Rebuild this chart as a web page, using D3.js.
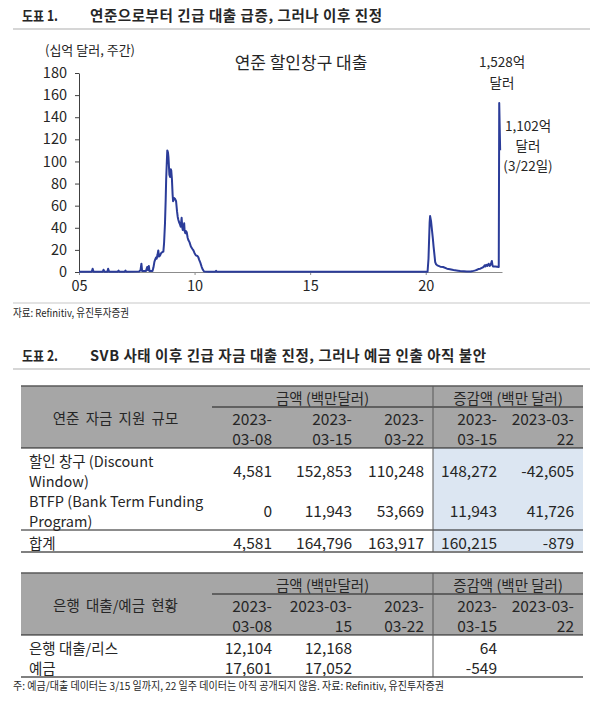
<!DOCTYPE html>
<html>
<head>
<meta charset="utf-8">
<script src="https://cdn.jsdelivr.net/npm/d3@7"></script>
<style>
  body { margin: 0; background: #fff; }
  text { font-family: "Noto Sans CJK KR", "Noto Sans", sans-serif; fill: #262626; }
</style>
</head>
<body>
<svg id="page"></svg>
<script>
// ---- chart 1 data: Fed discount window lending, weekly, $bn (x = years since 2000) ----
const years = [5.00, 5.55, 5.59, 5.63, 6.03, 6.06, 6.10, 6.23, 6.26, 6.30, 6.68, 6.71, 6.74, 6.98, 7.01, 7.04,
  7.60, 7.66, 7.70, 7.73, 7.90, 7.95, 7.99, 8.02, 8.05, 8.18, 8.22, 8.26, 8.29, 8.33, 8.36, 8.40, 8.43, 8.46,
  8.51, 8.55, 8.60, 8.65, 8.68, 8.72, 8.75, 8.77, 8.80, 8.82, 8.85, 8.87, 8.91, 8.94, 8.97, 8.99, 9.02, 9.05,
  9.07, 9.11, 9.16, 9.20, 9.24, 9.27, 9.30, 9.33, 9.37, 9.40, 9.44, 9.47, 9.49, 9.52, 9.55, 9.57, 9.60, 9.63,
  9.66, 9.70, 9.73, 9.78, 9.84, 9.90, 9.95, 10.00, 10.06, 10.12, 10.16, 10.20, 10.24, 10.28, 10.31, 10.36,
  10.41, 10.60, 10.90, 10.93, 10.96, 12.00, 14.00, 16.00, 18.00, 20.08, 20.12, 20.17, 20.19, 20.23, 20.27,
  20.31, 20.34, 20.38, 20.41, 20.45, 20.50, 20.63, 20.75, 20.92, 21.05, 21.20, 21.40, 21.49, 21.65, 21.78,
  21.95, 22.07, 22.15, 22.22, 22.29, 22.36, 22.43, 22.50, 22.55, 22.58, 22.62, 22.66, 22.72, 22.76, 22.79,
  22.83, 22.86, 22.89, 22.91, 23.01, 23.16, 23.18, 23.22];
const loans = [0.2, 0.2, 3, 0.2, 0.3, 2, 0.3, 0.3, 3, 0.3, 0.3, 1.2, 0.3, 0.3, 1.2, 0.3,
  0.4, 1.5, 7.5, 1, 1, 4.5, 1.5, 5.5, 1, 1, 4, 9, 11, 13, 12, 16, 19.5, 14,
  15, 17, 18, 18.5, 26, 44, 65, 83, 100, 110, 108, 104, 88, 86, 93, 92, 84, 70,
  64, 67, 66, 64, 55, 50, 47, 45, 43, 41, 49, 40, 38, 40, 44, 37, 35, 37,
  36, 31, 29, 27, 23, 21, 19.5, 17, 15, 14.5, 13.5, 11, 9, 6.5, 4.5, 2,
  0.4, 0.3, 0.3, 1.1, 0.3, 0.2, 0.2, 0.2, 0.2, 0.2, 12, 45, 50.6, 46, 38,
  30, 23, 15, 9, 7, 6, 4.8, 4.5, 3, 2.5, 1.8, 1.2, 0.9, 0.6, 0.4,
  0.5, 1, 1.5, 2, 2.8, 3, 3.8, 4.5, 6, 5, 6.5, 5.5, 7.5, 5.5, 6,
  8, 10, 6, 5, 5, 4.6, 152.8, 110.2];
const yTicks = [0, 20, 40, 60, 80, 100, 120, 140, 160, 180];
const xTicks = [5, 10, 15, 20];
const xTickLabels = ["05", "10", "15", "20"];

// ---- table 1: Fed funding support ----
const t1Groups = ["금액 (백만달러)", "증감액 (백만 달러)"];
const t1Corner = "연준 자금 지원 규모";
const t1ColHeads = [["2023-", "03-08"], ["2023-", "03-15"], ["2023-", "03-22"], ["2023-", "03-15"], ["2023-03-", "22"]];
const t1Labels = [["할인 창구 (Discount", "Window)"], ["BTFP (Bank Term Funding", "Program)"], ["합계"]];
const t1Values = [
  ["4,581", "152,853", "110,248", "148,272", "-42,605"],
  ["0", "11,943", "53,669", "11,943", "41,726"],
  ["4,581", "164,796", "163,917", "160,215", "-879"]
];

// ---- table 2: bank loans / deposits ----
const t2Corner = "은행 대출/예금 현황";
const t2ColHeads = [["2023-", "03-08"], ["2023-03-", "15"], ["2023-", "03-22"], ["2023-", "03-15"], ["2023-03-", "22"]];
const t2Labels = [["은행 대출/리스"], ["예금"]];
const t2Values = [
  ["12,104", "12,168", "", "64", ""],
  ["17,601", "17,052", "", "-549", ""]
];

const svg = d3.select("#page").attr("width", 600).attr("height", 702);

// section titles
function sectionTitle(y, num, title, width, lineY) {
  svg.append("text").attr("x", 22).attr("y", y).attr("font-size", 14).attr("font-weight", 700)
    .attr("textLength", 36).attr("lengthAdjust", "spacingAndGlyphs").text(num);
  svg.append("text").attr("x", 90).attr("y", y).attr("font-size", 14.5).attr("font-weight", 700)
    .attr("textLength", width).attr("lengthAdjust", "spacing").text(title);
  svg.append("line").attr("x1", 13).attr("x2", 590).attr("y1", lineY).attr("y2", lineY)
    .attr("stroke", "#c8c8c8").attr("stroke-width", 1.5);
}
sectionTitle(21, "도표 1.", "연준으로부터 긴급 대출 급증, 그러나 이후 진정", 292, 29);

// ---- chart 1 ----
const x = d3.scaleLinear().domain([5, 23.3]).range([79, 502]);
const y = d3.scaleLinear().domain([0, 180]).range([272, 73]);

svg.append("text").attr("x", 45).attr("y", 55).attr("font-size", 13).text("(십억 달러, 주간)");

const yAxis = svg.append("g").attr("transform", "translate(79,0)")
  .call(d3.axisLeft(y).tickValues(yTicks).tickSize(4).tickPadding(8).tickSizeOuter(0));
yAxis.select(".domain").attr("stroke", "#404040");
yAxis.selectAll(".tick line").attr("stroke", "#404040");
yAxis.selectAll("text").attr("font-size", 14.5).attr("font-family", "'Noto Sans CJK KR'").attr("fill", "#333");

const xAxis = svg.append("g").attr("transform", "translate(0,272)")
  .call(d3.axisBottom(x).tickValues(xTicks).tickFormat((d, i) => xTickLabels[i]).tickSize(3).tickPadding(6).tickSizeOuter(0));
xAxis.select(".domain").attr("stroke", "#8c8c8c");
xAxis.selectAll(".tick line").attr("stroke", "#8c8c8c");
xAxis.selectAll("text").attr("font-size", 14.5).attr("font-family", "'Noto Sans CJK KR'").attr("fill", "#333");

const line = d3.line().x(d => x(d[0])).y(d => y(d[1]));
svg.append("path").datum(d3.zip(years, loans))
  .attr("d", line).attr("fill", "none").attr("stroke", "#2b3c99").attr("stroke-width", 2)
  .attr("stroke-linejoin", "round");

svg.append("text").attr("x", 301).attr("y", 69).attr("text-anchor", "middle").attr("font-size", 17).text("연준 할인창구 대출");
svg.append("text").attr("x", 502).attr("y", 67).attr("text-anchor", "middle").attr("font-size", 13.5).text("1,528억");
svg.append("text").attr("x", 502).attr("y", 88).attr("text-anchor", "middle").attr("font-size", 13.5).text("달러");
svg.append("text").attr("x", 528).attr("y", 131).attr("text-anchor", "middle").attr("font-size", 13.5).text("1,102억");
svg.append("text").attr("x", 528).attr("y", 151).attr("text-anchor", "middle").attr("font-size", 13.5).text("달러");
svg.append("text").attr("x", 528).attr("y", 171).attr("text-anchor", "middle").attr("font-size", 13.5).text("(3/22일)");

svg.append("line").attr("x1", 13).attr("x2", 590).attr("y1", 303).attr("y2", 303)
  .attr("stroke", "#c8c8c8").attr("stroke-width", 1.2);
svg.append("text").attr("x", 13).attr("y", 317).attr("font-size", 11)
  .attr("textLength", 116).attr("lengthAdjust", "spacingAndGlyphs").text("자료: Refinitiv, 유진투자증권");

sectionTitle(361, "도표 2.", "SVB 사태 이후 긴급 자금 대출 진정, 그러나 예금 인출 아직 불안", 396, 369);

// ---- tables ----
const colRight = [272, 352, 424, 497, 574];
const L = 21, M = 212, S = 433, R = 583;

function drawTable(o) {
  const g = svg.append("g");
  // backgrounds
  g.append("rect").attr("x", L).attr("y", o.top).attr("width", R - L).attr("height", o.headBottom - o.top).attr("fill", "#a6a6a6");
  if (o.blue) g.append("rect").attr("x", S).attr("y", o.headBottom).attr("width", R - S).attr("height", o.bottom - o.headBottom).attr("fill", "#dce6f2");
  // group headers
  g.append("text").attr("x", (M + S) / 2).attr("y", o.groupY).attr("text-anchor", "middle").attr("dominant-baseline", "central")
    .attr("font-size", 14.5).text(t1Groups[0]);
  g.append("text").attr("x", (S + R) / 2).attr("y", o.groupY).attr("text-anchor", "middle").attr("dominant-baseline", "central")
    .attr("font-size", 14.5).text(t1Groups[1]);
  g.append("text").attr("x", (L + M) / 2 - 1).attr("y", (o.top + o.headBottom) / 2).attr("text-anchor", "middle")
    .attr("dominant-baseline", "central").attr("font-size", 14.5).attr("word-spacing", 3).text(o.corner);
  o.heads.forEach((h, i) => {
    h.forEach((s, j) => {
      g.append("text").attr("x", colRight[i]).attr("y", o.headY[j]).attr("text-anchor", "end")
        .attr("dominant-baseline", "central").attr("font-size", 15.5).text(s);
    });
  });
  o.labels.forEach((lab, r) => {
    lab.forEach((s, j) => {
      g.append("text").attr("x", 29).attr("y", o.labelY[r][j]).attr("dominant-baseline", "central")
        .attr("font-size", 14.5).text(s);
    });
    o.values[r].forEach((v, i) => {
      g.append("text").attr("x", colRight[i]).attr("y", o.valueY[r]).attr("text-anchor", "end")
        .attr("dominant-baseline", "central").attr("font-size", 15.5).text(v);
    });
  });
  // rules
  const hl = (x1, x2, yy, c, w) => g.append("line").attr("x1", x1).attr("x2", x2).attr("y1", yy).attr("y2", yy).attr("stroke", c).attr("stroke-width", w);
  hl(L, R, o.top, "#595959", 1.5);
  hl(M, R, o.groupLine, "#1a1a1a", 1);
  hl(L, R, o.headBottom, "#1a1a1a", 1.2);
  if (o.sumLine) hl(L, R, o.sumLine, "#1a1a1a", 1);
  hl(L, R, o.bottom, "#808080", 2);
  g.append("line").attr("x1", S).attr("x2", S).attr("y1", o.top).attr("y2", o.bottom).attr("stroke", "#595959").attr("stroke-width", 1);
}

drawTable({
  top: 386, groupY: 397, groupLine: 407, headY: [418, 438], headBottom: 448, bottom: 552, sumLine: 530, blue: true,
  corner: t1Corner, heads: t1ColHeads, labels: t1Labels, values: t1Values,
  labelY: [[460, 480], [500, 520], [542]], valueY: [470, 510, 542]
});

drawTable({
  top: 573, groupY: 584, groupLine: 594, headY: [605, 625], headBottom: 635, bottom: 677, blue: false,
  corner: t2Corner, heads: t2ColHeads, labels: t2Labels, values: t2Values,
  labelY: [[647], [667]], valueY: [647, 667]
});

svg.append("text").attr("x", 13).attr("y", 690).attr("font-size", 11)
  .attr("textLength", 431).attr("lengthAdjust", "spacingAndGlyphs")
  .text("주: 예금/대출 데이터는 3/15 일까지, 22 일주 데이터는 아직 공개되지 않음. 자료: Refinitiv, 유진투자증권");
</script>
</body>
</html>
